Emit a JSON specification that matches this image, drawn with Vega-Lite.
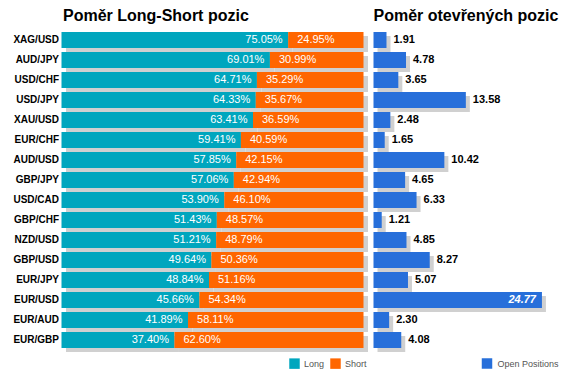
{
  "$schema": "https://vega.github.io/schema/vega-lite/v6.json",
  "padding": {"left": 0, "top": 8, "right": 5, "bottom": 5},
  "bounds": "flush",
  "spacing": 8.5,
  "config": {
    "view": {"stroke": null},
    "font": "Liberation Sans",
    "title": {"font": "Liberation Sans", "fontSize": 16, "fontWeight": "bold", "color": "#000", "anchor": "start", "frame": "group", "offset": 6}
  },
  "datasets": {
    "pairs": [
      {"pair": "XAG/USD", "long": 0.7505, "short": 0.2495, "open": 1.91},
      {"pair": "AUD/JPY", "long": 0.6901, "short": 0.3099, "open": 4.78},
      {"pair": "USD/CHF", "long": 0.6471, "short": 0.3529, "open": 3.65},
      {"pair": "USD/JPY", "long": 0.6433, "short": 0.3567, "open": 13.58},
      {"pair": "XAU/USD", "long": 0.6341, "short": 0.3659, "open": 2.48},
      {"pair": "EUR/CHF", "long": 0.5941, "short": 0.4059, "open": 1.65},
      {"pair": "AUD/USD", "long": 0.5785, "short": 0.4215, "open": 10.42},
      {"pair": "GBP/JPY", "long": 0.5706, "short": 0.4294, "open": 4.65},
      {"pair": "USD/CAD", "long": 0.5390, "short": 0.4610, "open": 6.33},
      {"pair": "GBP/CHF", "long": 0.5143, "short": 0.4857, "open": 1.21},
      {"pair": "NZD/USD", "long": 0.5121, "short": 0.4879, "open": 4.85},
      {"pair": "GBP/USD", "long": 0.4964, "short": 0.5036, "open": 8.27},
      {"pair": "EUR/JPY", "long": 0.4884, "short": 0.5116, "open": 5.07},
      {"pair": "EUR/USD", "long": 0.4566, "short": 0.5434, "open": 24.77},
      {"pair": "EUR/AUD", "long": 0.4189, "short": 0.5811, "open": 2.30},
      {"pair": "EUR/GBP", "long": 0.3740, "short": 0.6260, "open": 4.08}
    ],
    "segments": [
      {"pair": "XAG/USD", "side": "Long", "pct": 0.7505}, {"pair": "XAG/USD", "side": "Short", "pct": 0.2495},
      {"pair": "AUD/JPY", "side": "Long", "pct": 0.6901}, {"pair": "AUD/JPY", "side": "Short", "pct": 0.3099},
      {"pair": "USD/CHF", "side": "Long", "pct": 0.6471}, {"pair": "USD/CHF", "side": "Short", "pct": 0.3529},
      {"pair": "USD/JPY", "side": "Long", "pct": 0.6433}, {"pair": "USD/JPY", "side": "Short", "pct": 0.3567},
      {"pair": "XAU/USD", "side": "Long", "pct": 0.6341}, {"pair": "XAU/USD", "side": "Short", "pct": 0.3659},
      {"pair": "EUR/CHF", "side": "Long", "pct": 0.5941}, {"pair": "EUR/CHF", "side": "Short", "pct": 0.4059},
      {"pair": "AUD/USD", "side": "Long", "pct": 0.5785}, {"pair": "AUD/USD", "side": "Short", "pct": 0.4215},
      {"pair": "GBP/JPY", "side": "Long", "pct": 0.5706}, {"pair": "GBP/JPY", "side": "Short", "pct": 0.4294},
      {"pair": "USD/CAD", "side": "Long", "pct": 0.5390}, {"pair": "USD/CAD", "side": "Short", "pct": 0.4610},
      {"pair": "GBP/CHF", "side": "Long", "pct": 0.5143}, {"pair": "GBP/CHF", "side": "Short", "pct": 0.4857},
      {"pair": "NZD/USD", "side": "Long", "pct": 0.5121}, {"pair": "NZD/USD", "side": "Short", "pct": 0.4879},
      {"pair": "GBP/USD", "side": "Long", "pct": 0.4964}, {"pair": "GBP/USD", "side": "Short", "pct": 0.5036},
      {"pair": "EUR/JPY", "side": "Long", "pct": 0.4884}, {"pair": "EUR/JPY", "side": "Short", "pct": 0.5116},
      {"pair": "EUR/USD", "side": "Long", "pct": 0.4566}, {"pair": "EUR/USD", "side": "Short", "pct": 0.5434},
      {"pair": "EUR/AUD", "side": "Long", "pct": 0.4189}, {"pair": "EUR/AUD", "side": "Short", "pct": 0.5811},
      {"pair": "EUR/GBP", "side": "Long", "pct": 0.3740}, {"pair": "EUR/GBP", "side": "Short", "pct": 0.6260}
    ]
  },
  "resolve": {"scale": {"color": "independent", "x": "independent"}, "legend": {"color": "independent"}},
  "hconcat": [
    {
      "width": 302,
      "height": 320,
      "title": {"text": "Poměr Long-Short pozic"},
      "encoding": {
        "y": {
          "field": "pair", "type": "nominal", "sort": null,
          "scale": {"paddingInner": 0.2, "paddingOuter": 0.1},
          "axis": {"title": null, "domain": false, "ticks": false, "grid": false, "labelFontSize": 10, "labelFontWeight": "bold", "labelColor": "#000", "labelPadding": 4.5, "minExtent": 62.5, "maxExtent": 62.5}
        }
      },
      "layer": [
        {
          "data": {"name": "segments"},
          "mark": {"type": "bar", "color": "#D0D0D0", "xOffset": 3, "x2Offset": 3, "yOffset": 4, "y2Offset": 4},
          "encoding": {
            "x": {"field": "pct", "type": "quantitative", "stack": "zero", "scale": {"domain": [0, 1], "nice": false}, "axis": null},
            "detail": {"field": "side", "type": "nominal"},
            "order": {"field": "side", "type": "nominal"}
          }
        },
        {
          "data": {"name": "segments"},
          "mark": {"type": "bar", "xOffset": -1.5, "x2Offset": 1.5},
          "encoding": {
            "x": {"field": "pct", "type": "quantitative", "stack": "zero"},
            "color": {
              "field": "side", "type": "nominal",
              "scale": {"domain": ["Long", "Short"], "range": ["#00A6BE", "#FF6600"]},
              "legend": {"orient": "none", "legendX": 226, "legendY": 328, "direction": "horizontal", "title": null, "symbolType": "square", "symbolSize": 110, "symbolStrokeWidth": 0, "labelFontSize": 9, "labelColor": "#555", "labelOffset": 4, "columnPadding": 5, "padding": 0}
            },
            "order": {"field": "side", "type": "nominal"}
          }
        },
        {
          "data": {"name": "pairs"},
          "mark": {"type": "text", "align": "right", "baseline": "middle", "dx": -7, "color": "#FFFFFF", "fontSize": 11},
          "encoding": {
            "x": {"field": "long", "type": "quantitative"},
            "text": {"field": "long", "type": "quantitative", "format": ".2%"}
          }
        },
        {
          "data": {"name": "pairs"},
          "mark": {"type": "text", "align": "left", "baseline": "middle", "dx": 7.5, "color": "#FFFFFF", "fontSize": 11},
          "encoding": {
            "x": {"field": "long", "type": "quantitative"},
            "text": {"field": "short", "type": "quantitative", "format": ".2%"}
          }
        }
      ]
    },
    {
      "width": 170,
      "height": 320,
      "title": {"text": "Poměr otevřených pozic"},
      "data": {"name": "pairs"},
      "encoding": {
        "y": {
          "field": "pair", "type": "nominal", "sort": null,
          "scale": {"paddingInner": 0.2, "paddingOuter": 0.1},
          "axis": null
        }
      },
      "layer": [
        {
          "mark": {"type": "bar", "color": "#D0D0D0", "xOffset": 4, "x2Offset": 3, "yOffset": 4, "y2Offset": 4},
          "encoding": {
            "x": {"field": "open", "type": "quantitative", "scale": {"domain": [0, 25], "nice": false}, "axis": null}
          }
        },
        {
          "mark": {"type": "bar"},
          "encoding": {
            "x": {"field": "open", "type": "quantitative"},
            "color": {
              "datum": "Open Positions", "type": "nominal",
              "scale": {"domain": ["Open Positions"], "range": ["#276FDA"]},
              "legend": {"orient": "none", "legendX": 108, "legendY": 328, "direction": "horizontal", "title": null, "symbolType": "square", "symbolSize": 110, "symbolStrokeWidth": 0, "labelFontSize": 9, "labelColor": "#555", "labelOffset": 5, "padding": 0}
            }
          }
        },
        {
          "transform": [{"filter": "datum.open < 20"}],
          "mark": {"type": "text", "align": "left", "baseline": "middle", "dx": 7, "color": "#000", "fontSize": 11, "fontWeight": "bold"},
          "encoding": {
            "x": {"field": "open", "type": "quantitative"},
            "text": {"field": "open", "type": "quantitative", "format": ".2f"}
          }
        },
        {
          "transform": [{"filter": "datum.open >= 20"}],
          "mark": {"type": "text", "align": "right", "baseline": "middle", "dx": -6, "color": "#FFFFFF", "fontSize": 11, "fontWeight": "bold", "fontStyle": "italic"},
          "encoding": {
            "x": {"field": "open", "type": "quantitative"},
            "text": {"field": "open", "type": "quantitative", "format": ".2f"}
          }
        }
      ]
    }
  ]
}
